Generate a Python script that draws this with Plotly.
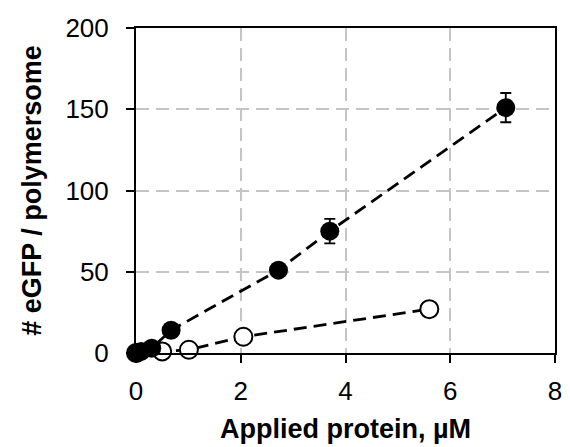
import plotly.graph_objects as go

# Loaded polymersomes (filled) vs. control (open)
conc_filled = [0.02, 0.1, 0.3, 0.67, 2.72, 3.70, 7.06]
egfp_filled = [0, 1, 3, 14, 51, 75, 151]
err_filled = [0, 0, 0, 0, 0, 7.5, 9]

conc_open = [0.0, 0.5, 1.01, 2.05, 5.6]
egfp_open = [0, 1, 2, 10, 27]

FONT = "Liberation Sans, Arial, sans-serif"

fig = go.Figure()

fig.add_trace(go.Scatter(
    x=conc_open, y=egfp_open, mode="lines+markers",
    line=dict(color="black", width=2.8, dash="13px,7px"),
    marker=dict(symbol="circle", size=18, color="white",
                line=dict(color="black", width=2)),
    cliponaxis=False, showlegend=False,
))

fig.add_trace(go.Scatter(
    x=conc_filled, y=egfp_filled, mode="lines+markers",
    line=dict(color="black", width=2.8, dash="13px,7px"),
    marker=dict(symbol="circle", size=19, color="black"),
    error_y=dict(type="data", array=err_filled, color="black",
                 thickness=1.8, width=5.5),
    cliponaxis=False, showlegend=False,
))

axis_common = dict(
    showline=True, linecolor="black", linewidth=2, mirror=True,
    ticks="outside", ticklen=8, tickwidth=2, tickcolor="black",
    showgrid=True, gridcolor="#c4c4c4", gridwidth=1.8, griddash="13px,7px",
    zeroline=False,
    tickfont=dict(family=FONT, size=26, color="black"),
)

fig.update_xaxes(
    range=[0, 8], dtick=2, ticklabelstandoff=6, **axis_common,
    title=dict(text="<b>Applied protein, µM</b>", standoff=14,
               font=dict(family=FONT, size=27, color="black")),
)
fig.update_yaxes(
    range=[0, 200], dtick=50, ticklabelstandoff=12, **axis_common,
    title=dict(text="<b># eGFP / polymersome</b>", standoff=16,
               font=dict(family=FONT, size=27, color="black")),
)

fig.update_layout(
    width=570, height=447,
    margin=dict(l=136, r=8, t=28, b=94),
    paper_bgcolor="white", plot_bgcolor="white",
)

fig.write_html("out.html")
